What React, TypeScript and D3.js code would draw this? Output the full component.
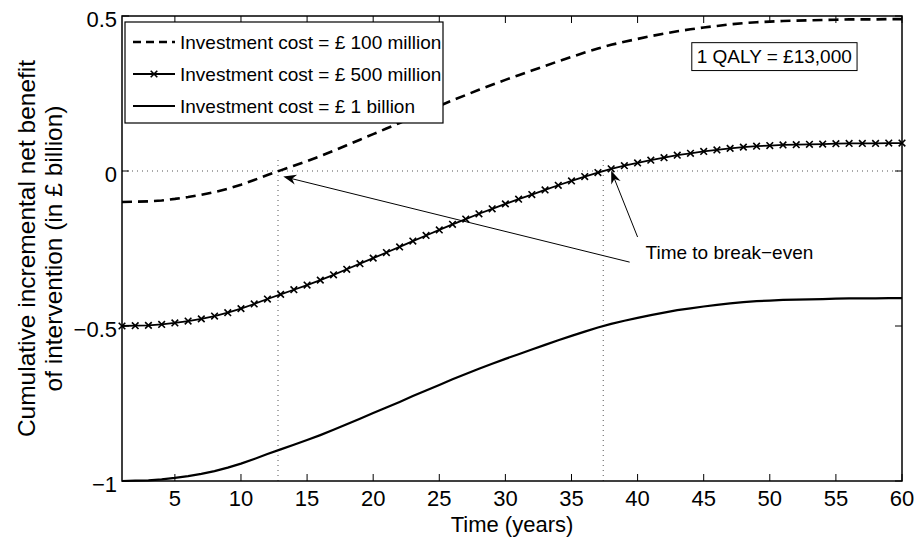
import React from 'react';
import * as d3 from 'd3';

// years on the x axis
const YEARS = [
  1, 2, 3, 4, 5, 6, 7, 8, 9, 10, 11, 12, 13, 14, 15, 16, 17, 18, 19, 20,
  21, 22, 23, 24, 25, 26, 27, 28, 29, 30, 31, 32, 33, 34, 35, 36, 37, 38, 39, 40,
  41, 42, 43, 44, 45, 46, 47, 48, 49, 50, 51, 52, 53, 54, 55, 56, 57, 58, 59, 60,
];

// cumulative incremental net benefit (in £ billion)
const COST_100M = [
  -0.100, -0.099, -0.098, -0.095, -0.090, -0.084, -0.077, -0.068, -0.057, -0.044,
  -0.029, -0.013, 0.002, 0.017, 0.032, 0.048, 0.065, 0.083, 0.101, 0.119,
  0.137, 0.155, 0.174, 0.192, 0.210, 0.228, 0.245, 0.262, 0.278, 0.294,
  0.309, 0.324, 0.339, 0.354, 0.368, 0.382, 0.395, 0.407, 0.417, 0.426,
  0.435, 0.443, 0.451, 0.457, 0.463, 0.468, 0.473, 0.477, 0.480, 0.482,
  0.484, 0.485, 0.486, 0.487, 0.488, 0.489, 0.489, 0.489, 0.490, 0.490,
];

const COST_500M = [
  -0.500, -0.499, -0.498, -0.495, -0.490, -0.484, -0.477, -0.468, -0.457, -0.444,
  -0.429, -0.413, -0.398, -0.383, -0.368, -0.352, -0.335, -0.317, -0.299, -0.281,
  -0.263, -0.245, -0.226, -0.208, -0.190, -0.172, -0.155, -0.138, -0.122, -0.106,
  -0.091, -0.076, -0.061, -0.046, -0.032, -0.018, -0.005, 0.007, 0.017, 0.026,
  0.035, 0.043, 0.051, 0.057, 0.063, 0.068, 0.073, 0.077, 0.080, 0.082,
  0.084, 0.085, 0.086, 0.087, 0.088, 0.089, 0.089, 0.089, 0.090, 0.090,
];

const COST_1B = [
  -1.000, -0.999, -0.998, -0.995, -0.990, -0.984, -0.977, -0.968, -0.957, -0.944,
  -0.929, -0.913, -0.898, -0.883, -0.868, -0.852, -0.835, -0.817, -0.799, -0.781,
  -0.763, -0.745, -0.726, -0.708, -0.690, -0.672, -0.655, -0.638, -0.622, -0.606,
  -0.591, -0.576, -0.561, -0.546, -0.532, -0.518, -0.505, -0.493, -0.483, -0.474,
  -0.465, -0.457, -0.449, -0.443, -0.437, -0.432, -0.427, -0.423, -0.420, -0.418,
  -0.416, -0.415, -0.414, -0.413, -0.412, -0.411, -0.411, -0.411, -0.410, -0.410,
];

const X_TICKS = [5, 10, 15, 20, 25, 30, 35, 40, 45, 50, 55, 60];
const Y_TICKS = [-1, -0.5, 0, 0.5];
const Y_TICK_LABELS = ['\u22121', '\u22120.5', '0', '0.5'];

const BREAK_EVEN = [12.8, 37.4];
const LEGEND_LABELS = [
  'Investment cost = £ 100 million',
  'Investment cost = £ 500 million',
  'Investment cost = £ 1 billion',
];

const FONT = '"Liberation Sans", Arial, Helvetica, sans-serif';
const W = 919;
const H = 542;
const margin = { top: 16, right: 17, bottom: 61, left: 122 };

const Arrow = ({ x1, y1, x2, y2 }: { x1: number; y1: number; x2: number; y2: number }) => {
  const ang = (Math.atan2(y2 - y1, x2 - x1) * 180) / Math.PI;
  const len = Math.hypot(x2 - x1, y2 - y1);
  const k = (len - 8) / len;
  return (
    <g>
      <line x1={x1} y1={y1} x2={x1 + (x2 - x1) * k} y2={y1 + (y2 - y1) * k} stroke="#000" strokeWidth={1} />
      <path d="M0,0L-13,-5L-9,0L-13,5Z" transform={`translate(${x2},${y2}) rotate(${ang})`} fill="#000" />
    </g>
  );
};

export default function App() {
  const x = d3.scaleLinear().domain([1, 60]).range([margin.left, W - margin.right]);
  const y = d3.scaleLinear().domain([-1, 0.5]).range([H - margin.bottom, margin.top]);
  const [x0, x1] = x.range();
  const [yb, yt] = y.range();

  const line = d3
    .line<number>()
    .x((_, i) => x(YEARS[i]))
    .y((d) => y(d));

  const tick = 7;
  const lg = { x: 125, y: 22, w: 318, h: 101 };
  const rows = [42, 74, 106];

  return (
    <svg
      width={W}
      height={H}
      style={{ position: 'absolute', left: 0, top: 0, background: '#fff' }}
      fontFamily={FONT}
    >
      <rect x={0} y={0} width={W} height={H} fill="#fff" />

      {/* zero line and break-even guides */}
      <line x1={x0} x2={x1} y1={y(0)} y2={y(0)} stroke="#555" strokeWidth={1} strokeDasharray="1,4" />
      {BREAK_EVEN.map((b) => (
        <line key={b} x1={x(b)} x2={x(b)} y1={yb} y2={y(0.04)} stroke="#555" strokeWidth={1} strokeDasharray="1,4" />
      ))}

      {/* curves */}
      <path d={line(COST_1B) || ''} fill="none" stroke="#000" strokeWidth={2.2} />
      <path d={line(COST_500M) || ''} fill="none" stroke="#000" strokeWidth={1.8} />
      {COST_500M.map((v, i) => (
        <path
          key={i}
          d="M-3.3,-3.3L3.3,3.3M-3.3,3.3L3.3,-3.3"
          transform={`translate(${x(YEARS[i])},${y(v)})`}
          stroke="#000"
          strokeWidth={1.6}
        />
      ))}
      <path d={line(COST_100M) || ''} fill="none" stroke="#000" strokeWidth={2.6} strokeDasharray="10,6" />

      {/* axes box */}
      <rect x={x0} y={yt} width={x1 - x0} height={yb - yt} fill="none" stroke="#000" strokeWidth={1.5} />
      {X_TICKS.map((t) => (
        <g key={t}>
          <line x1={x(t)} x2={x(t)} y1={yb} y2={yb - tick} stroke="#000" strokeWidth={1} />
          <line x1={x(t)} x2={x(t)} y1={yt} y2={yt + tick} stroke="#000" strokeWidth={1} />
          <text x={x(t)} y={yb + 25} fontSize={22} textAnchor="middle" fill="#000">
            {t}
          </text>
        </g>
      ))}
      {Y_TICKS.map((t, i) => (
        <g key={t}>
          <line x1={x0} x2={x0 + tick} y1={y(t)} y2={y(t)} stroke="#000" strokeWidth={1} />
          <line x1={x1} x2={x1 - tick} y1={y(t)} y2={y(t)} stroke="#000" strokeWidth={1} />
          <text x={x0 - 5} y={y(t) + 11} fontSize={22} textAnchor="end" fill="#000">
            {Y_TICK_LABELS[i]}
          </text>
        </g>
      ))}

      {/* axis titles */}
      <text x={(x0 + x1) / 2} y={532} fontSize={22} textAnchor="middle" fill="#000">
        Time (years)
      </text>
      <g transform={`translate(35,${(yt + yb) / 2}) rotate(-90)`}>
        <text x={0} y={0} fontSize={24.5} textAnchor="middle" fill="#000">
          Cumulative incremental net benefit
        </text>
        <text x={0} y={27} fontSize={24.5} textAnchor="middle" fill="#000">
          of intervention  (in £ billion)
        </text>
      </g>

      {/* break-even annotation */}
      <Arrow x1={x(39.4)} y1={y(-0.294)} x2={x(13.2)} y2={y(-0.018)} />
      <Arrow x1={x(40.0)} y1={y(-0.213)} x2={x(38.0)} y2={y(0.001)} />
      <text x={x(40.6)} y={y(-0.284)} fontSize={19} fill="#000">
        Time to break{'\u2212'}even
      </text>

      {/* QALY box */}
      <rect x={x(44.1)} y={y(0.414)} width={x(56.6) - x(44.1)} height={y(0.324) - y(0.414)} fill="#fff" stroke="#000" strokeWidth={1} />
      <text x={x(44.47)} y={y(0.348)} fontSize={19} fill="#000">
        1 QALY = £13,000
      </text>

      {/* legend */}
      <rect x={lg.x} y={lg.y} width={lg.w} height={lg.h} fill="#fff" stroke="#000" strokeWidth={1.2} />
      <line x1={133} x2={175} y1={rows[0]} y2={rows[0]} stroke="#000" strokeWidth={2.6} strokeDasharray="8,5" />
      <line x1={133} x2={175} y1={rows[1]} y2={rows[1]} stroke="#000" strokeWidth={1.8} />
      <path
        d="M-3.3,-3.3L3.3,3.3M-3.3,3.3L3.3,-3.3"
        transform={`translate(154,${rows[1]})`}
        stroke="#000"
        strokeWidth={1.6}
      />
      <line x1={133} x2={175} y1={rows[2]} y2={rows[2]} stroke="#000" strokeWidth={2.2} />
      {LEGEND_LABELS.map((l, i) => (
        <text key={l} x={180} y={rows[i] + 7} fontSize={19} fill="#000">
          {l}
        </text>
      ))}
    </svg>
  );
}
